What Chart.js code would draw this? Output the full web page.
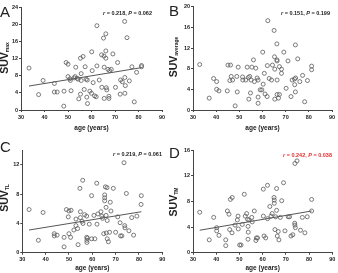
<!DOCTYPE html>
<html>
<head>
<meta charset="utf-8">
<script src="https://cdn.jsdelivr.net/npm/chart.js@4.4.1/dist/chart.umd.min.js"></script>
<style>
  html, body { margin: 0; padding: 0; background: #fff; }
  #wrap { position: relative; width: 338px; height: 273px; overflow: hidden; background: #fff; font-family: "Liberation Sans", Arial, sans-serif; }
  canvas { position: absolute; }
  .letter { position: absolute; font-size: 15px; line-height: 15px; color: #222; }
  .ytitle { position: absolute; width: 0; height: 0; }
  .ytitle span { position: absolute; left: 0; top: 0; transform: translate(-50%, -50%) rotate(-90deg); white-space: nowrap; font-weight: bold; font-size: 10.5px; line-height: 11px; color: #222; }
  .ytitle sub { font-size: 5px; vertical-align: -1px; }
  .stat { position: absolute; font-weight: bold; font-size: 5.5px; line-height: 5.5px; color: #222; white-space: nowrap; text-align: right; }
  .stat i { font-style: italic; }
</style>
</head>
<body>
<div id="wrap">
  <canvas id="cA" width="169" height="136" style="left:0;top:0"></canvas>
  <canvas id="cB" width="169" height="136" style="left:169px;top:0"></canvas>
  <canvas id="cC" width="169" height="137" style="left:0;top:136px"></canvas>
  <canvas id="cD" width="169" height="137" style="left:169px;top:136px"></canvas>

  <div class="letter" style="left:0;top:4px">A</div>
  <div class="letter" style="left:169px;top:3px">B</div>
  <div class="letter" style="left:0;top:139px">C</div>
  <div class="letter" style="left:169px;top:145px">D</div>

  <div class="ytitle" style="left:6px;top:58px"><span>SUV<sub>max</sub></span></div>
  <div class="ytitle" style="left:175px;top:57px"><span>SUV<sub>average</sub></span></div>
  <div class="ytitle" style="left:6px;top:198px"><span>SUV<sub>TL</sub></span></div>
  <div class="ytitle" style="left:175px;top:202px"><span>SUV<sub>TM</sub></span></div>

  <div class="stat" style="right:186px;top:11px"><i>r</i> = 0.218, <i>P</i> = 0.062</div>
  <div class="stat" style="right:8px;top:11px"><i>r</i> = 0.151, <i>P</i> = 0.199</div>
  <div class="stat" style="right:176px;top:152px"><i>r</i> = 0.219, <i>P</i> = 0.061</div>
  <div class="stat" style="right:6px;top:153px;color:#e53030"><i>r</i> = 0.242, <i>P</i> = 0.038</div>
</div>
<script>
// ---- Data ----
const xTicks = [30, 40, 50, 60, 70, 80, 90];

const ageA = [33.4,39.4,37.5,44.2,44.2,45.4,48.2,48.3,49.2,50.0,
  50.0,50.8,51.0,51.3,52.6,53.0,53.9,54.3,53.3,54.6,
  55.3,55.3,55.6,55.6,56.4,56.9,57.3,57.7,58.2,58.0,
  58.3,59.3,60.0,60.1,60.3,60.7,61.3,62.0,62.3,62.3,
  63.3,64.3,64.4,65.1,65.3,65.4,65.4,66.1,66.1,66.1,
  66.3,66.5,67.0,67.4,67.4,67.7,68.4,69.1,70.2,71.1,
  72.2,72.4,73.1,74.1,74.2,74.2,74.4,75.1,76.1,77.2,
  78.2,79.2,81.3,81.3];
const suvMax = [9.8,6.9,3.6,6.2,4.2,4.2,0.9,4.4,11.1,10.7,
  7.8,7.3,6.9,4.5,7.5,7.8,7.4,7.2,10.0,2.6,
  3.7,12.1,8.5,6.9,12.5,4.8,10.1,7.2,7.0,3.0,
  1.5,4.4,3.9,13.6,9.2,6.4,3.3,3.1,19.7,10.3,
  7.0,12.9,5.3,16.8,12.6,10.0,2.7,17.8,13.8,12.1,
  5.2,4.7,9.5,2.7,3.2,9.2,9.5,13.1,5.3,11.1,
  3.7,7.0,6.6,20.7,7.6,3.9,5.7,16.9,6.8,10.1,
  1.9,8.8,10.4,10.1];
const trendA = [[33.4, 5.6], [81.3, 9.9]];

const ageB = [32.9,38.9,37.0,40.2,40.2,41.2,45.1,46.2,46.5,45.9,
  47.1,44.8,48.2,48.9,49.1,49.5,51.4,51.5,52.8,53.4,
  53.9,54.5,55.1,55.4,56.1,57.1,56.5,54.8,54.1,57.7,
  58.1,58.1,58.1,59.0,59.7,60.1,60.3,60.8,61.1,62.1,
  62.0,62.3,62.9,63.9,64.3,65.0,65.2,65.3,65.3,66.2,
  66.2,66.3,66.3,66.3,66.9,67.3,67.3,68.2,68.2,69.2,
  70.2,71.0,72.3,72.8,73.8,73.9,74.2,74.3,74.2,75.2,
  76.1,77.3,78.2,79.4,81.2,81.2];
const suvAverage = [8.8,6.1,2.3,5.5,4.0,3.7,8.7,8.7,6.5,5.7,
  5.8,3.7,0.8,6.5,3.5,8.3,6.4,5.8,5.8,8.3,
  6.3,6.5,5.8,8.3,9.7,8.1,5.5,3.3,2.1,6.2,
  5.8,2.5,1.3,3.9,3.9,11.2,5.0,7.1,3.1,8.6,
  2.6,17.3,6.1,5.8,8.7,15.4,10.3,7.9,2.1,12.8,
  9.7,9.5,5.8,3.0,2.3,3.0,8.4,7.1,7.9,11.2,
  4.2,9.5,2.6,5.8,6.0,4.9,3.5,6.2,12.6,9.9,
  5.5,6.7,1.6,5.7,8.5,7.8];

const ageC = [32.9,38.9,36.9,43.7,43.7,44.9,47.9,47.9,48.9,50.0,
  50.9,49.7,50.0,50.7,52.1,53.0,53.0,53.7,53.9,54.7,
  54.9,54.9,55.6,55.9,56.0,56.7,57.6,57.6,57.7,57.7,
  57.9,58.7,59.7,59.7,60.7,61.1,61.9,62.0,62.4,63.7,
  64.1,64.4,64.9,65.6,65.3,65.3,65.3,65.9,65.9,66.0,
  66.3,66.4,66.4,66.9,67.4,67.7,68.0,69.0,70.0,70.9,
  71.9,72.1,72.7,73.6,73.9,74.0,74.6,75.7,76.9,77.7,
  79.1,81.0,80.9];
const suvTL = [5.9,5.5,1.7,2.6,2.3,2.4,2.1,0.8,5.9,5.7,
  5.8,4.9,2.6,2.1,3.1,4.6,3.7,3.3,1.1,8.8,
  5.6,4.8,4.3,9.9,4.0,5.2,5.0,2.1,1.7,1.4,
  2.0,3.9,7.8,1.9,5.1,1.9,9.5,3.9,5.3,5.6,
  5.0,4.7,2.6,9.0,7.9,7.5,7.1,6.2,5.1,2.7,
  8.9,4.4,1.9,1.5,2.8,6.9,5.7,8.8,2.8,4.9,
  4.1,2.3,2.3,12.3,3.7,3.4,8.1,3.0,4.8,2.4,
  5.0,7.8,6.6];
const trendC = [[32.9, 3.1], [81.0, 5.6]];

const ageD = [32.9,38.9,37.0,40.2,40.2,41.2,44.1,44.1,44.8,45.5,
  46.1,46.9,45.8,46.8,48.1,49.1,49.5,49.4,50.1,50.7,
  52.1,51.2,52.5,53.1,53.5,53.7,53.8,54.1,53.7,55.3,
  55.5,56.4,57.1,57.3,57.8,60.3,62.1,60.3,60.6,61.3,
  62.1,63.1,63.6,64.1,64.9,65.0,65.0,65.3,65.6,66.0,
  66.0,66.3,66.7,67.0,67.6,68.2,69.0,69.6,71.0,71.6,
  72.2,73.0,73.8,73.9,74.1,73.9,74.8,76.3,77.1,78.2,
  79.2,81.1,81.1];
const suvTM = [6.3,5.5,2.0,3.9,3.4,2.7,2.0,1.1,6.5,6.0,
  8.3,8.6,3.6,3.1,4.3,5.1,3.7,5.7,1.2,1.2,
  9.1,4.4,5.7,6.1,5.2,4.1,3.2,5.1,2.1,5.5,
  4.8,6.5,1.9,2.3,2.3,9.9,10.5,5.7,2.6,2.3,
  5.3,7.2,5.7,6.1,8.6,8.2,7.7,3.6,5.6,10.0,
  6.6,2.6,3.3,2.0,5.5,8.1,10.9,3.4,5.6,5.6,
  2.6,2.8,4.6,4.3,3.9,13.9,14.3,3.5,5.5,3.1,
  5.6,8.3,6.5];
const trendD = [[32.9, 3.5], [81.1, 6.5]];

const yMaxA = 24, yMaxB = 20, yMaxC = 14, yMaxD = 16;

// ---- Drawing ----
const FONT = "'Liberation Sans', Arial, sans-serif";
const AX = '#444';

function makeChart(id, xs, ys, trend, yMax, lay) {
  const datasets = [{
    type: 'scatter',
    data: xs.map((x, i) => ({ x: x, y: ys[i] })),
    pointStyle: 'circle',
    pointRadius: 2,
    pointBorderWidth: 0.8,
    borderColor: '#5a5a5a',
    backgroundColor: 'rgba(0,0,0,0)',
    pointBackgroundColor: 'rgba(0,0,0,0)',
    clip: false
  }];
  if (trend) {
    datasets.push({
      type: 'line',
      data: trend.map(p => ({ x: p[0], y: p[1] })),
      borderColor: '#555',
      borderWidth: 1,
      pointRadius: 0,
      fill: false,
      tension: 0
    });
  }
  return new Chart(document.getElementById(id), {
    type: 'scatter',
    data: { datasets },
    options: {
      responsive: false,
      animation: false,
      devicePixelRatio: 1,
      layout: { padding: { left: 0, right: lay.R, top: lay.T, bottom: 0 } },
      plugins: { legend: { display: false }, tooltip: { enabled: false } },
      scales: {
        x: {
          type: 'linear',
          min: xTicks[0], max: xTicks[xTicks.length - 1],
          afterBuildTicks: a => { a.ticks = xTicks.map(v => ({ value: v })); },
          ticks: { stepSize: 10, font: { family: FONT, size: 5.5, weight: 'bold' }, color: '#222', padding: lay.xPad, maxRotation: 0, autoSkip: false },
          grid: { drawOnChartArea: false, drawTicks: true, tickLength: 2, color: AX, lineWidth: 1 },
          border: { display: true, color: AX, width: 1 },
          title: { display: true, text: 'age (years)', font: { family: FONT, size: 6.5, weight: 'bold', lineHeight: 1.2 }, color: '#222', padding: { top: 0, bottom: lay.tPad } },
          afterFit: s => { s.height = lay.H; }
        },
        y: {
          type: 'linear',
          min: 0, max: yMax,
          afterBuildTicks: a => { a.ticks = a.ticks.filter(t => t.value % 4 === 0); },
          ticks: { stepSize: 4, font: { family: FONT, size: 5.5, weight: 'bold' }, color: '#222', padding: 1 },
          grid: { drawOnChartArea: false, drawTicks: true, tickLength: 2, color: AX, lineWidth: 1 },
          border: { display: true, color: AX, width: 1 },
          afterFit: s => { s.width = lay.W; }
        }
      }
    }
  });
}

makeChart('cA', ageA, suvMax, trendA, yMaxA, { W: 21, R: 7, T: 7.3, H: 26, xPad: 2.5, tPad: 4.1 });
makeChart('cB', ageB, suvAverage, null, yMaxB, { W: 24, R: 6, T: 6.7, H: 26, xPad: 2.5, tPad: 4.1 });
makeChart('cC', ageC, suvTL, trendC, yMaxC, { W: 22.3, R: 6.7, T: 14.3, H: 20.3, xPad: 1.5, tPad: 0.4 });
makeChart('cD', ageD, suvTM, trendD, yMaxD, { W: 24, R: 5.7, T: 14, H: 20.3, xPad: 1.5, tPad: 0.4 });
</script>
</body>
</html>
